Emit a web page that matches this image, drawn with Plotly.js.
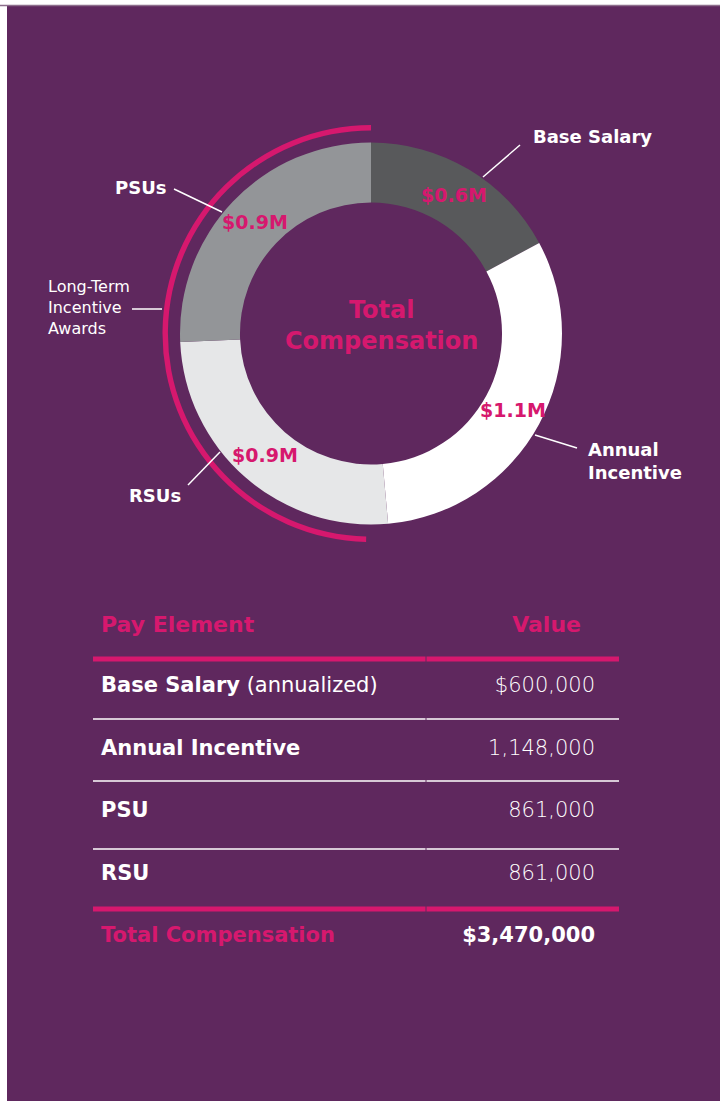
<!DOCTYPE html>
<html>
<head>
<meta charset="utf-8">
<script src="https://cdn.plot.ly/plotly-3.0.1.min.js"></script>
<style>
  html, body { margin: 0; padding: 0; background: #ffffff; }
  #chart { width: 725px; height: 1101px; }
</style>
</head>
<body>
<div id="chart"></div>
<script>
// ---------------- data ----------------
const donutLabels = ['Base Salary', 'Annual Incentive', 'RSUs', 'PSUs'];
const donutValues = [0.6, 1.1, 0.9, 0.9];          // $M, as printed on the ring
const donutColors = ['#58595b', '#ffffff', '#e6e7e8', '#939598'];

const payElements = ['Base Salary', 'Annual Incentive', 'PSU', 'RSU'];
const payNotes    = [' (annualized)', '', '', ''];
const payValues   = [600000, 1148000, 861000, 861000];
const tableHeaders = ['Pay Element', 'Value'];
const totalLabel  = 'Total Compensation';
const centerTitle = ['Total', 'Compensation'];

// long-term incentive bracket: the rest vs PSU + RSU (drawn clockwise from 12 o'clock)
const arcValues = [payValues[0] + payValues[1], payValues[2] + payValues[3]];

// ---------------- styling ----------------
const W = 725, H = 1101;
const PURPLE = '#5f285e';
const PINK = '#d6186e';
const FONT = 'DejaVu Sans';
const fx = x => x / W;
const fy = y => 1 - y / H;

const fmt = v => v.toLocaleString('en-US');
const totalValue = payValues.reduce((a, b) => a + b, 0);

const col1 = payElements.map((e, i) => '<b>' + e + '</b>' + payNotes[i]).concat(['<b>' + totalLabel + '</b>']);
const col2 = payValues.map((v, i) => '<span>' + (i === 0 ? '$' : '') + fmt(v) + '</span>')
  .concat(['<b>$' + fmt(totalValue) + '</b>']);
const col1Colors = payElements.map(() => '#ffffff').concat([PINK]);
const col2Colors = payValues.map(() => '#ffffff').concat(['#ffffff']);

// ring geometry (pixels)
const CX = 371, CY = 333.5, R_OUT = 191, HOLE = 0.686;
const R_MID = R_OUT * (1 + HOLE) / 2;

const donut = {
  type: 'pie',
  labels: donutLabels,
  values: donutValues,
  sort: false,
  direction: 'clockwise',
  rotation: 0,
  hole: HOLE,
  domain: { x: [fx(CX - R_OUT), fx(CX + R_OUT)], y: [fy(CY + R_OUT), fy(CY - R_OUT)] },
  marker: { colors: donutColors, line: { width: 0 } },
  textinfo: 'none',
  hoverinfo: 'skip',
  showlegend: false
};

const arc = {
  type: 'pie',
  labels: ['Other', 'Long-Term Incentive Awards'],
  values: arcValues,
  sort: false,
  direction: 'clockwise',
  rotation: 0,
  hole: 0.974,
  domain: { x: [fx(CX - 208.5), fx(CX + 208.5)], y: [fy(CY + 208.5), fy(CY - 208.5)] },
  marker: { colors: ['rgba(0,0,0,0)', PINK], line: { width: 0 } },
  textinfo: 'none',
  hoverinfo: 'skip',
  showlegend: false
};

const table = {
  type: 'table',
  domain: { x: [fx(93), fx(604)], y: [fy(1005), fy(604)] },
  columnwidth: [333, 178],
  header: {
    values: [['<b>' + tableHeaders[0] + '</b>'], ['<b>' + tableHeaders[1] + '</b>\u00a0\u00a0']],
    align: ['left', 'right'],
    height: 61,
    fill: { color: 'rgba(0,0,0,0)' },
    line: { width: 0, color: 'rgba(0,0,0,0)' },
    font: { family: FONT, size: 22, color: PINK }
  },
  cells: {
    values: [col1, col2],
    align: ['left', 'right'],
    height: 62.5,
    fill: { color: 'rgba(0,0,0,0)' },
    line: { width: 0, color: 'rgba(0,0,0,0)' },
    font: { family: FONT, size: 21, color: [col1Colors, col2Colors], weight: [400, 200] }
  }
};

const line = (x0, y0, x1, y1, color, width) => ({
  type: 'line', xref: 'paper', yref: 'paper',
  x0: fx(x0), y0: fy(y0), x1: fx(x1), y1: fy(y1),
  line: { color: color, width: width }
});
const rule = (y, color, width) => [line(93, y, 425.5, y, color, width), line(426.5, y, 619, y, color, width)];

const shapes = [
  { type: 'rect', xref: 'paper', yref: 'paper', layer: 'below',
    x0: fx(7), x1: fx(720), y0: 0, y1: fy(5), fillcolor: PURPLE, line: { width: 0 } },
  line(0, 5.5, 720, 5.5, '#8d6e8c', 1.5),
  // leader lines
  line(483, 177, 520, 145, '#ffffff', 1.5),
  line(535, 435, 577, 448, '#ffffff', 1.5),
  line(174, 189, 222, 212, '#ffffff', 1.5),
  line(132, 309, 162, 309, '#ffffff', 1.5),
  line(188, 485, 220, 452, '#ffffff', 1.5)
].concat(
  rule(659, PINK, 5), rule(719, '#ffffff', 1.5), rule(781, '#ffffff', 1.5),
  rule(849, '#ffffff', 1.5), rule(909, PINK, 5)
);

const ann = (text, x, y, xanchor, size, bold, color) => ({
  xref: 'paper', yref: 'paper', x: fx(x), y: fy(y),
  xanchor: xanchor, yanchor: 'middle', align: xanchor,
  text: bold ? '<b>' + text + '</b>' : text, showarrow: false,
  font: { family: FONT, size: size, color: color || '#ffffff' }
});

const annotations = [
  ann('Base Salary', 531, 136, 'left', 18, true),
  ann('Annual<br>Incentive', 586, 461, 'left', 18, true),
  ann('PSUs', 169, 188, 'right', 18, true),
  ann('Long-Term<br>Incentive<br>Awards', 46, 307, 'left', 16, false),
  ann('RSUs', 183, 495, 'right', 18, true),
  ann(centerTitle.join('<br>'), 381, 326, 'center', 24, true, PINK)
];

// value labels on the ring, at each slice's mid-angle
const ringTotal = donutValues.reduce((a, b) => a + b, 0);
let cum = 0;
donutValues.forEach(v => {
  const mid = (cum + v / 2) / ringTotal * 2 * Math.PI;
  cum += v;
  const x = CX + R_MID * Math.sin(mid), y = CY - R_MID * Math.cos(mid);
  annotations.push(ann('$' + v.toFixed(1) + 'M', x, y, 'center', 19, true, PINK));
});

const layout = {
  width: W, height: H,
  margin: { l: 0, r: 0, t: 0, b: 0, pad: 0 },
  paper_bgcolor: '#ffffff',
  plot_bgcolor: 'rgba(0,0,0,0)',
  showlegend: false,
  shapes: shapes,
  annotations: annotations
};

Plotly.newPlot('chart', [donut, arc, table], layout, { staticPlot: true, displayModeBar: false });
</script>
</body>
</html>
